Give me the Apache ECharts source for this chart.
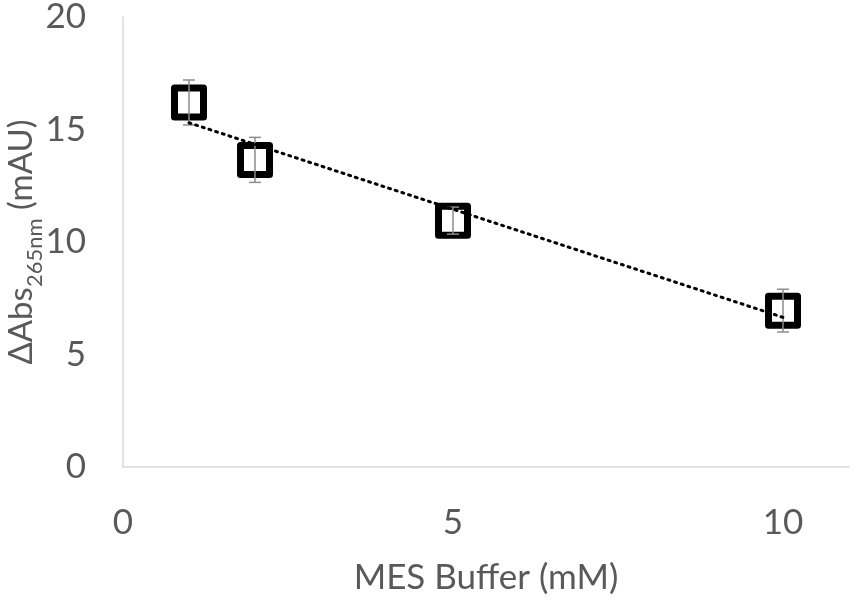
<!DOCTYPE html>
<html><head><meta charset="utf-8">
<script src="https://cdn.jsdelivr.net/npm/echarts@6/dist/echarts.min.js"></script>
<style>html,body{margin:0;padding:0;background:#fff}#c{width:853px;height:600px}</style>
</head><body><div id="c"></div>
<script>
const xValues = [1, 2, 5, 10];
const yValues = [16.2, 13.65, 10.95, 6.95];
const yErrors = [1.0, 1.0, 0.6, 0.95];
const trendX = [1, 10];
const trendY = [15.3, 6.65];
const xTicks = [0, 5, 10];
const yTicks = [0, 5, 10, 15, 20];

const pts = xValues.map((x, i) => [x, yValues[i]]);
const errs = xValues.map((x, i) => [x, yValues[i] - yErrors[i], yValues[i] + yErrors[i]]);
const trend = trendX.map((x, i) => [x, trendY[i]]);

const chart = echarts.init(document.getElementById('c'));
const font = 'Lato, "Open Sans", sans-serif';
chart.setOption({
  animation: false,
  backgroundColor: '#fff',
  grid: { left: 123, right: 4, top: 17, bottom: 133, outerBoundsMode: 'none', containLabel: false },
  xAxis: {
    type: 'value', min: 0, max: 11, interval: 5,
    axisLine: { show: true, lineStyle: { color: '#d9d9d9', width: 1.5 } },
    axisTick: { show: false }, splitLine: { show: false },
    axisLabel: { color: '#595959', fontSize: 35, fontFamily: font, margin: 38, showMaxLabel: false,
      formatter: v => xTicks.includes(v) ? String(v) : '' },
    name: 'MES Buffer (mM)', nameLocation: 'middle', nameGap: 93, nameMoveOverlap: false,
    nameTextStyle: { color: '#595959', fontSize: 35, fontFamily: font }
  },
  yAxis: {
    type: 'value', min: 0, max: 20, interval: 5,
    axisLine: { show: true, lineStyle: { color: '#d9d9d9', width: 1.5 } },
    axisTick: { show: false }, splitLine: { show: false },
    axisLabel: { color: '#595959', fontSize: 35, fontFamily: font, margin: 37,
      formatter: v => yTicks.includes(v) ? String(v) : '' },
    name: '{a|ΔAbs}{s|265nm}{a| (mAU)}', nameLocation: 'middle', nameGap: 85, nameRotate: 90, nameMoveOverlap: false,
    nameTextStyle: {
      color: '#595959', fontFamily: font,
      rich: {
        a: { fontSize: 33, color: '#595959', fontFamily: font, verticalAlign: 'bottom', lineHeight: 36 },
        s: { fontSize: 22, color: '#595959', fontFamily: font, verticalAlign: 'bottom', lineHeight: 26, padding: [0, 0, -8, 0] }
      }
    }
  },
  series: [
    {
      type: 'scatter', data: pts, symbol: 'rect', symbolSize: 29, z: 2,
      itemStyle: { color: '#fff', borderColor: '#000', borderWidth: 7, borderJoin: 'round', opacity: 1 }
    },
    {
      type: 'custom', z: 3, data: errs,
      renderItem: (params, api) => {
        const x = api.value(0);
        const lo = api.coord([x, api.value(1)]);
        const hi = api.coord([x, api.value(2)]);
        const w = 6;
        const st = { stroke: '#8c8c8c', lineWidth: 1.5 };
        return { type: 'group', children: [
          { type: 'line', shape: { x1: lo[0], y1: lo[1], x2: hi[0], y2: hi[1] }, style: st },
          { type: 'line', shape: { x1: lo[0] - w, y1: lo[1], x2: lo[0] + w, y2: lo[1] }, style: st },
          { type: 'line', shape: { x1: hi[0] - w, y1: hi[1], x2: hi[0] + w, y2: hi[1] }, style: st }
        ]};
      }
    },
    {
      type: 'line', data: trend, symbol: 'none', z: 4,
      lineStyle: { color: '#000', width: 3, type: [2, 5], cap: 'round' }
    }
  ]
});
</script></body></html>
